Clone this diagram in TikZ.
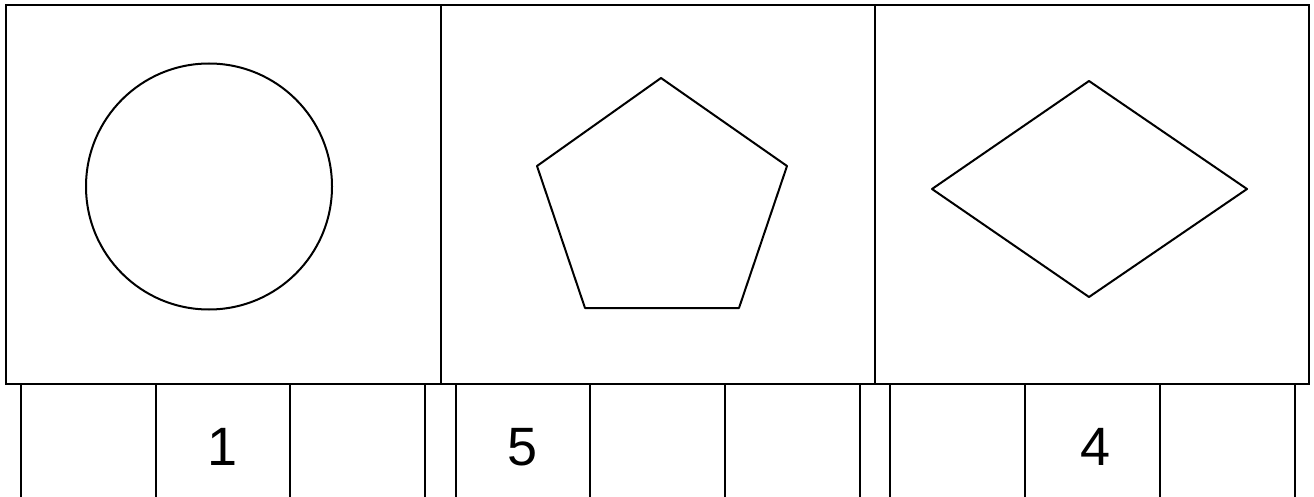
\documentclass[tikz,border=0pt]{standalone}
\usepackage{fontspec}
\setmainfont{Liberation Sans}
\begin{document}
\begin{tikzpicture}[x=1pt,y=-1pt,
  frame/.style={draw, line width=2.3pt, inner sep=0pt, outer sep=0pt, minimum height=379pt},
  shapeline/.style={draw, line width=2pt, line join=round},
  cell/.style={draw, line width=2.3pt, inner sep=0pt, outer sep=0pt, minimum height=126pt, anchor=north west, font=\fontsize{54}{54}\selectfont}]
\useasboundingbox (0,0) rectangle (1314,497);
\clip (0,0) rectangle (1314,497);
% top frames
\node[frame, minimum width=435pt] (box1) at (223.5,194.5) {};
\node[frame, minimum width=434pt] (box2) at (658,194.5) {};
\node[frame, minimum width=434pt] (box3) at (1092,194.5) {};
% shapes
\node[draw, circle, line width=2pt, inner sep=0pt, minimum size=246pt] (circ) at (209,186.5) {};
\draw[shapeline] (661,78) -- (787,166) -- (739,308) -- (585,308) -- (537,166) -- cycle;
\draw[shapeline] (1089,81) -- (1247,189) -- (1089,297) -- (932,189) -- cycle;
% answer cells
\node[cell, minimum width=135pt] (a1) at (21,384) {};
\node[cell, minimum width=134pt] (a2) at (156,384) {1};
\node[cell, minimum width=135pt] (a3) at (290,384) {};
\node[cell, minimum width=134pt] (b1) at (456,384) {5};
\node[cell, minimum width=135pt] (b2) at (590,384) {};
\node[cell, minimum width=135pt] (b3) at (725,384) {};
\node[cell, minimum width=135pt] (c1) at (890,384) {};
\node[cell, minimum width=135pt] (c2) at (1025,384) {\hspace*{6pt}4};
\node[cell, minimum width=135pt] (c3) at (1160,384) {};
\end{tikzpicture}
\end{document}
